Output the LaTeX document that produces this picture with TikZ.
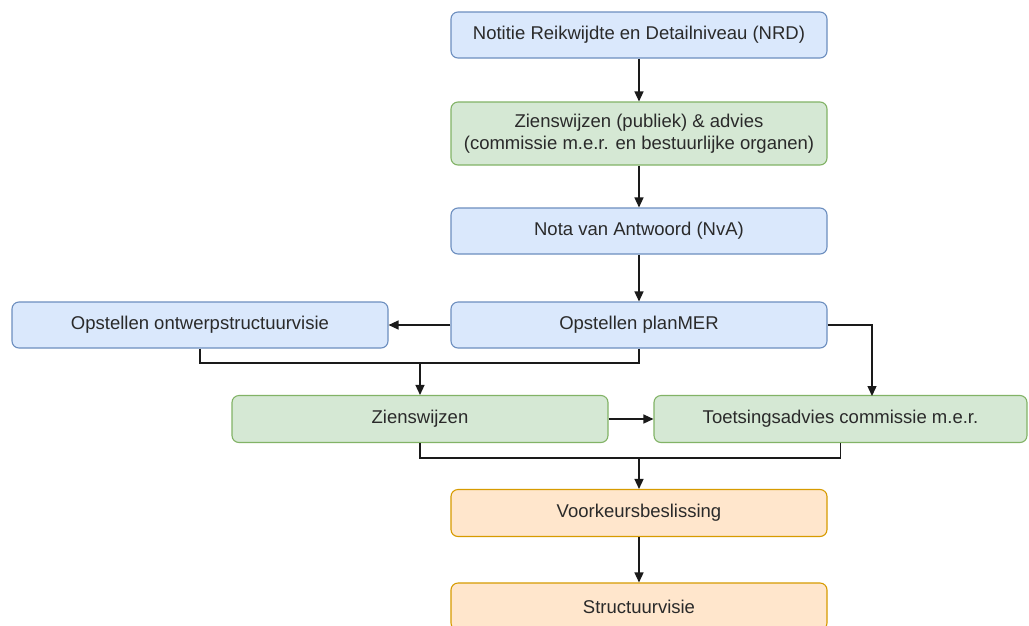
\documentclass[tikz,border=0pt]{standalone}
\usepackage{fontspec}
\setmainfont{Liberation Sans}
\usetikzlibrary{arrows.meta,calc}
\definecolor{bluefill}{HTML}{DAE8FC}
\definecolor{bluedraw}{HTML}{6C8EBF}
\definecolor{greenfill}{HTML}{D5E8D4}
\definecolor{greendraw}{HTML}{82B366}
\definecolor{orangefill}{HTML}{FFE6CC}
\definecolor{orangedraw}{HTML}{D79B00}
\definecolor{txt}{HTML}{2A2A2A}
\definecolor{edge}{HTML}{1A1A1A}
\tikzset{
  box/.style={rectangle, rounded corners=7pt, line width=1.1pt, minimum width=376pt,
    minimum height=46pt, inner sep=2pt, align=center, text=txt,
    font=\fontsize{18.5}{22}\selectfont},
  bluebox/.style={box, fill=bluefill, draw=bluedraw},
  greenbox/.style={box, fill=greenfill, draw=greendraw},
  orangebox/.style={box, fill=orangefill, draw=orangedraw},
  conn/.style={draw=edge, line width=1.4pt},
  arr/.style={conn, -{Triangle[length=10pt,width=9pt]}}
}
\begin{document}
\begin{tikzpicture}[x=1pt,y=-1pt]
\fill[white] (0,0) rectangle (1029,625);
\clip (0,0) rectangle (1029,625);
\node[bluebox] (nrd) at (639,35) {Notitie Reikwijdte en Detailniveau (NRD)};
\node[greenbox, minimum height=63pt] (zw1) at (639,133.5) {Zienswijzen (publiek) \& advies\\(commissie m.e.r. en bestuurlijke organen)};
\node[bluebox] (nva) at (639,231) {Nota van Antwoord (NvA)};
\node[bluebox] (plan) at (639,325) {Opstellen planMER};
\node[bluebox] (ontw) at (200,325) {Opstellen ontwerpstructuurvisie};
\node[greenbox, minimum height=47pt] (zw2) at (420,419) {Zienswijzen};
\node[greenbox, minimum height=47pt, minimum width=373pt] (toets) at (840.5,419) {Toetsingsadvies commissie m.e.r.};
\node[orangebox, minimum height=47pt] (vk) at (639,513) {Voorkeursbeslissing};
\node[orangebox, minimum height=47pt] (sv) at (639,606.5) {Structuurvisie};
\coordinate (j1) at (420,363);
\coordinate (j2) at (639,458);
\coordinate (t1) at (872,396);
\draw[arr] (nrd) -- (zw1);
\draw[arr] (zw1) -- (nva);
\draw[arr] (nva) -- (plan);
\draw[arr] (plan) -- (ontw);
\draw[arr] (plan.east) -| (t1);
\draw[conn] (ontw.south) |- (j1);
\draw[conn] (plan.south) |- (j1);
\draw[arr] (j1) -- (zw2.north);
\draw[arr] (zw2) -- (toets);
\draw[conn] (zw2.south) |- (j2);
\draw[conn] (toets.south) |- (j2);
\draw[arr] (j2) -- (vk.north);
\draw[arr] (vk) -- (sv);
\end{tikzpicture}
\end{document}
